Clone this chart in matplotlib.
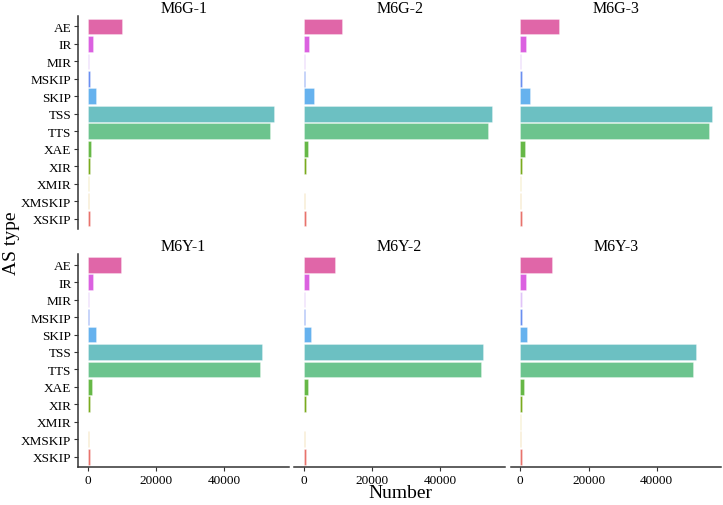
import numpy as np
import matplotlib.pyplot as plt

plt.rcParams['font.family'] = ['Liberation Serif', 'DejaVu Serif']

# ── data ─────────────────────────────────────────────────────────────────────
types = ['AE', 'IR', 'MIR', 'MSKIP', 'SKIP', 'TSS', 'TTS',
         'XAE', 'XIR', 'XMIR', 'XMSKIP', 'XSKIP']
samples = ['M6G-1', 'M6G-2', 'M6G-3', 'M6Y-1', 'M6Y-2', 'M6Y-3']

m6g_1 = [10000, 1600, 300, 500, 2450, 54550, 53300, 1000, 600, 200, 250, 600]
m6g_2 = [11050, 1470, 300, 450, 2850, 55250, 53970, 1170, 550, 60, 300, 550]
m6g_3 = [11440, 1580, 300, 550, 2840, 56130, 55350, 1290, 500, 200, 300, 600]
m6y_1 = [9800, 1470, 300, 350, 2260, 51030, 50450, 1090, 600, 150, 250, 600]
m6y_2 = [9000, 1470, 300, 350, 2050, 52500, 51830, 1090, 500, 60, 300, 550]
m6y_3 = [9390, 1580, 400, 400, 2050, 51530, 50560, 1090, 500, 150, 250, 600]
values = [m6g_1, m6g_2, m6g_3, m6y_1, m6y_2, m6y_3]

colors = ['#E066A8', '#DB61E0', '#E0C4F8', '#6A8FF0', '#66B2EE', '#6CC0C2',
          '#6CC48E', '#66B847', '#7AAB1E', '#F2E6B0', '#F0DAA8', '#E8736C']

xticks = [0, 20000, 40000]

# ── layout ───────────────────────────────────────────────────────────────────
W, H = 723, 506
fig = plt.figure(figsize=(W / 100, H / 100), dpi=100, facecolor='white')

col_x = [78.3, 294.3, 510.7]
col_w = 210.7
row_top = [17.0, 255.2]
row_h = 213.0

vmax = max(max(v) for v in values)
pos = np.arange(len(types))
axis_col = '#333333'

for i, (name, vals) in enumerate(zip(samples, values)):
    r, c = divmod(i, 3)
    ax = fig.add_axes([col_x[c] / W, 1 - (row_top[r] + row_h) / H,
                       col_w / W, row_h / H])
    ax.barh(pos, vals, height=0.9, color=colors,
            edgecolor=(1, 1, 1, 0.5), linewidth=0.4)
    ax.set_xlim(-0.05 * vmax, 1.05 * vmax)
    ax.set_ylim(len(types) - 0.4, -0.6)
    ax.set_title(name, fontsize=11.5, pad=2)

    for s in ['top', 'right']:
        ax.spines[s].set_visible(False)
    ax.spines['left'].set_visible(c == 0)
    ax.spines['bottom'].set_visible(r == 1)
    for s in ['left', 'bottom']:
        ax.spines[s].set_color(axis_col)
        ax.spines[s].set_linewidth(1.1)

    if c == 0:
        ax.set_yticks(pos)
        ax.set_yticklabels(types, fontsize=9.5)
    else:
        ax.set_yticks([])
    if r == 1:
        ax.set_xticks(xticks)
        ax.set_xticklabels([str(t) for t in xticks], fontsize=9.5)
    else:
        ax.set_xticks([])
    ax.tick_params(length=3, width=0.8, color=axis_col, pad=2)

fig.text(12 / W, 1 - 243 / H, 'AS type', rotation=90, ha='center', va='center',
         fontsize=14)
fig.text(400 / W, 1 - 494 / H, 'Number', ha='center', va='center', fontsize=14)

plt.savefig('out.png', dpi=100, facecolor='white')
